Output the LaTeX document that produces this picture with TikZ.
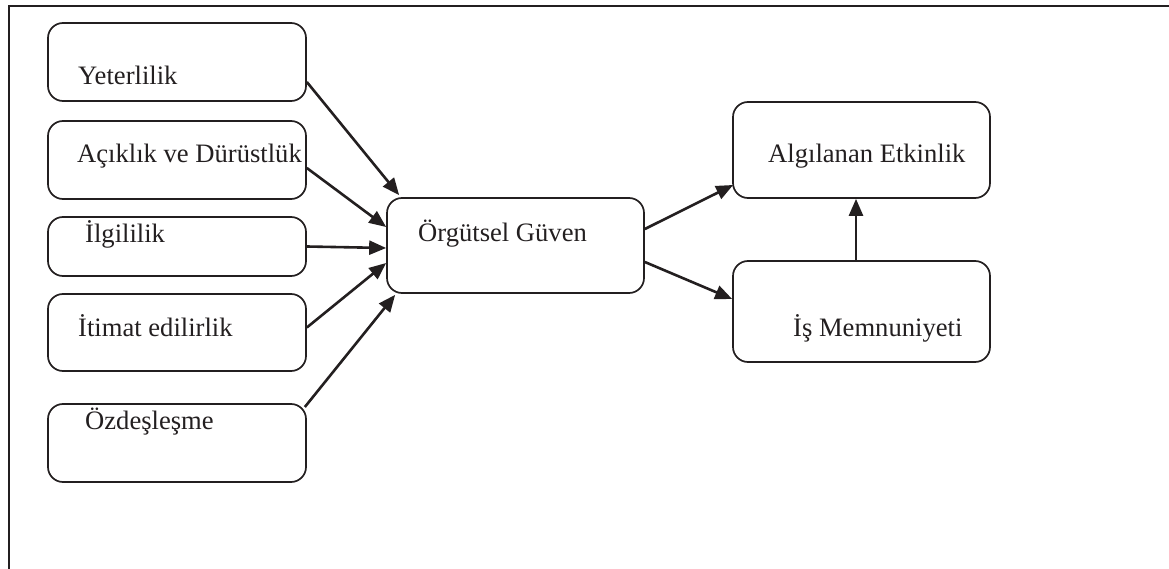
\documentclass[tikz,border=0pt]{standalone}
\usepackage{fontspec}
\setmainfont{Liberation Serif}
\usetikzlibrary{arrows.meta}
\definecolor{ink}{HTML}{231F20}
\tikzset{
  box/.style={draw=ink, line width=1.7pt, rounded corners=15pt, inner sep=0pt},
  lbl/.style={anchor=base west, inner sep=0pt, text=ink, font=\fontsize{26.6}{30}\selectfont},
  link/.style={draw=ink, line width=2.6pt, -{Triangle[length=17pt,width=14pt]}},
}
\begin{document}
\begin{tikzpicture}[x=1pt, y=-1pt]
\useasboundingbox (0,0) rectangle (1169,569);
% frame: top and left rules
\draw[ink, line width=2.4pt] (1169,6) -- (9,6) -- (9,569);

% antecedent boxes
\node[box, minimum width=258pt, minimum height=78pt] (yet) at (177,62) {};
\node[box, minimum width=258pt, minimum height=78pt] (acik) at (177,160) {};
\node[box, minimum width=258pt, minimum height=59pt] (ilg) at (177,246.5) {};
\node[box, minimum width=258pt, minimum height=77pt] (itm) at (177,332.5) {};
\node[box, minimum width=258pt, minimum height=78pt] (ozd) at (177,443) {};

% central and outcome boxes
\node[box, minimum width=257pt, minimum height=95pt] (og) at (515.5,245.5) {};
\node[box, minimum width=257pt, minimum height=96pt] (alg) at (861.5,150) {};
\node[box, minimum width=257pt, minimum height=101pt] (is) at (861.5,311.5) {};

% labels
\node[lbl] (tyet) at (78,85) {Yeterlilik};
\node[lbl] (tacik) at (77,163) {Açıklık ve Dürüstlük};
\node[lbl] (tilg) at (85,243) {İlgililik};
\node[lbl] (titm) at (78,336) {İtimat edilirlik};
\node[lbl] (tozd) at (85,429) {Özdeşleşme};
\node[lbl] (tog) at (418,242) {Örgütsel Güven};
\node[lbl] (talg) at (768,163) {Algılanan Etkinlik};
\node[lbl] (tis) at (793,336) {İş Memnuniyeti};

% connectors
\draw[link] ([yshift=-20pt]yet.east) -- ([xshift=13pt,yshift=2pt]og.north west);
\draw[link] ([yshift=-8pt]acik.east) -- ([yshift=18.5pt]og.west);
\draw[link] (ilg.east) -- ([yshift=-2.5pt]og.west);
\draw[link] ([yshift=5pt]itm.east) -- ([yshift=-17.5pt]og.west);
\draw[link] ([xshift=-2pt,yshift=36pt]ozd.east) -- ([xshift=9pt,yshift=-1pt]og.south west);
\draw[link] ([yshift=16.5pt]og.east) -- ([xshift=1pt,yshift=-35pt]alg.west);
\draw[link] ([yshift=-16.5pt]og.east) -- ([yshift=12.5pt]is.west);
\draw[link] ([xshift=-5.5pt]is.north) -- ([xshift=-5.5pt]alg.south);
\end{tikzpicture}
\end{document}
